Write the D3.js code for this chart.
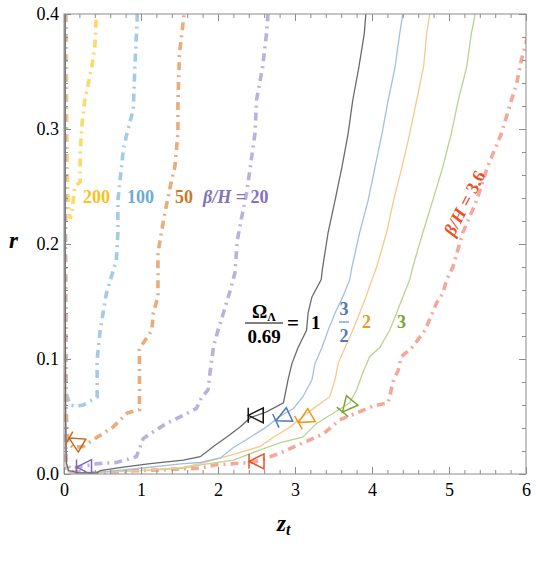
<!DOCTYPE html>
<html>
<head>
<meta charset="utf-8">
<script src="https://cdnjs.cloudflare.com/ajax/libs/d3/7.8.5/d3.min.js"></script>
<style>
  body { margin: 0; background: #fff; }
  .axis path { display: none; }
  .axis line { stroke: #8c8c8c; }
</style>
</head>
<body>
<script>
// curves, as [z_t, r] pairs
// dash-dot curves, one per beta/H
var beta200 = [[0.03,0.40],[0.035,0.33],[0.04,0.28],[0.05,0.245],[0.06,0.232],[0.08,0.222],[0.10,0.227],
  [0.12,0.238],[0.14,0.25],[0.21,0.254],[0.21,0.279],[0.23,0.302],[0.27,0.325],[0.36,0.354],[0.40,0.371],[0.42,0.40]];
var beta100 = [[0.02,0.40],[0.02,0.30],[0.02,0.20],[0.025,0.12],[0.03,0.07],[0.08,0.06],[0.14,0.059],[0.25,0.06],
  [0.43,0.067],[0.43,0.099],[0.47,0.125],[0.55,0.157],[0.68,0.186],[0.70,0.21],[0.70,0.238],[0.77,0.282],
  [0.82,0.297],[0.90,0.317],[0.92,0.354],[0.95,0.395],[0.95,0.40]];
var beta50 = [[0.015,0.40],[0.015,0.30],[0.02,0.15],[0.025,0.06],[0.05,0.027],[0.12,0.023],[0.25,0.024],
  [0.43,0.032],[0.64,0.041],[0.82,0.053],[0.98,0.056],[0.98,0.108],[1.03,0.114],[1.14,0.125],[1.16,0.14],
  [1.22,0.154],[1.22,0.192],[1.27,0.212],[1.31,0.227],[1.38,0.25],[1.44,0.267],[1.48,0.297],[1.48,0.325],
  [1.50,0.366],[1.53,0.383],[1.56,0.40]];
var beta20 = [[0.01,0.40],[0.01,0.2],[0.015,0.05],[0.03,0.01],[0.08,0.005],[0.2,0.006],[0.43,0.009],[0.68,0.01],
  [0.94,0.015],[1.03,0.031],[1.33,0.044],[1.55,0.051],[1.72,0.057],[1.79,0.067],[1.87,0.073],[1.90,0.09],
  [1.94,0.11],[2.0,0.125],[2.07,0.14],[2.16,0.16],[2.22,0.175],[2.25,0.203],[2.31,0.224],[2.37,0.244],
  [2.42,0.267],[2.48,0.296],[2.5,0.325],[2.58,0.354],[2.63,0.383],[2.65,0.40]];
var beta36 = [[0.01,0.40],[0.01,0.2],[0.01,0.03],[0.03,0.005],[0.1,0.002],[0.4,0.001],[1.0,0.003],[1.77,0.005],
  [1.98,0.008],[2.42,0.01],[2.55,0.012],[2.8,0.018],[3.1,0.027],[3.37,0.035],[3.58,0.047],[3.8,0.053],
  [4.01,0.059],[4.21,0.062],[4.28,0.082],[4.34,0.09],[4.38,0.102],[4.52,0.11],[4.69,0.125],[4.84,0.149],
  [4.92,0.157],[4.97,0.169],[5.05,0.18],[5.18,0.21],[5.36,0.238],[5.5,0.267],[5.68,0.296],[5.81,0.325],
  [5.88,0.34],[5.94,0.36],[6.0,0.375],[6.05,0.39]];

// solid curves, one per Omega_Lambda/0.69
var omega1 = [[0.015,0.40],[0.015,0.2],[0.02,0.05],[0.03,0.01],[0.06,0.003],[0.2,0.001],[0.43,0.001],[0.47,0.003],
  [0.77,0.006],[1.12,0.009],[1.55,0.012],[1.77,0.015],[1.94,0.024],[2.11,0.032],[2.29,0.041],[2.42,0.049],
  [2.63,0.054],[2.85,0.062],[2.91,0.082],[2.96,0.096],[3.04,0.11],[3.15,0.125],[3.17,0.14],[3.22,0.154],
  [3.34,0.169],[3.36,0.18],[3.43,0.21],[3.52,0.238],[3.61,0.267],[3.69,0.296],[3.75,0.325],[3.83,0.354],
  [3.9,0.383],[3.92,0.40]];
var omega15 = [[0.015,0.40],[0.015,0.2],[0.02,0.05],[0.03,0.008],[0.06,0.002],[0.2,0.001],[0.55,0.002],[0.99,0.005],
  [1.55,0.009],[1.77,0.01],[2.03,0.014],[2.2,0.023],[2.42,0.032],[2.63,0.041],[2.8,0.05],[2.98,0.057],
  [3.1,0.067],[3.22,0.082],[3.26,0.096],[3.35,0.11],[3.43,0.125],[3.52,0.14],[3.62,0.154],[3.71,0.169],
  [3.74,0.18],[3.84,0.21],[3.95,0.238],[4.04,0.267],[4.13,0.296],[4.21,0.325],[4.3,0.354],[4.36,0.383],[4.4,0.40]];
var omega2 = [[0.015,0.4],[0.015,0.2],[0.02,0.05],[0.03,0.007],[0.06,0.002],[0.2,0.001],[0.99,0.003],[1.55,0.006],
  [1.77,0.009],[2.2,0.017],[2.55,0.024],[2.72,0.032],[2.94,0.041],[3.1,0.05],[3.28,0.059],[3.45,0.067],
  [3.52,0.082],[3.56,0.096],[3.65,0.11],[3.75,0.125],[3.84,0.14],[3.92,0.154],[4.0,0.169],[4.06,0.18],
  [4.19,0.21],[4.28,0.238],[4.39,0.267],[4.49,0.296],[4.58,0.325],[4.67,0.354],[4.71,0.383],[4.75,0.4]];
var omega3 = [[0.015,0.4],[0.015,0.2],[0.02,0.05],[0.03,0.006],[0.06,0.002],[0.2,0.001],[0.99,0.003],[1.55,0.005],
  [1.77,0.008],[2.2,0.012],[2.55,0.021],[2.8,0.027],[3.1,0.032],[3.28,0.044],[3.5,0.053],[3.71,0.062],
  [3.8,0.073],[3.88,0.088],[3.97,0.102],[4.1,0.11],[4.23,0.125],[4.32,0.14],[4.4,0.154],[4.49,0.169],
  [4.53,0.18],[4.66,0.21],[4.79,0.238],[4.92,0.267],[5.03,0.296],[5.12,0.325],[5.23,0.354],[5.29,0.383],[5.34,0.4]];

// triangle markers sitting on the curves
var markerZ = [2.49, 2.84, 3.13, 3.68, 2.50, 0.15, 0.26];
var markerR = [0.051, 0.049, 0.048, 0.059, 0.011, 0.028, 0.006];

// tick values
var xTicks = [0, 1, 2, 3, 4, 5, 6];
var yTicks = [0.0, 0.1, 0.2, 0.3, 0.4];

// styles
var markerAngle = [0, -25, -30, -50, 0, 30, 0];
var markerColor = ["#111111", "#4f79b8", "#e89a1e", "#79a636", "#e8502a", "#c9691f", "#7a68b8"];
var serif = "'Liberation Serif', 'DejaVu Serif', serif";

var dashCurves = [
  {pts: beta200, color: "#fdd86a"},
  {pts: beta100, color: "#a3cbe5"},
  {pts: beta50, color: "#e9ac7e"},
  {pts: beta20, color: "#bcb0dc"},
  {pts: beta36, color: "#f5a898"}
];
var solidCurves = [
  {pts: omega3, color: "#b9d48e"},
  {pts: omega2, color: "#f5c98b"},
  {pts: omega15, color: "#a6bfe0"},
  {pts: omega1, color: "#6b6b6b"}
];

var width = 536, height = 564;
var margin = {top: 14, right: 10, bottom: 90, left: 64},
    w = width - margin.left - margin.right,
    h = height - margin.top - margin.bottom;

var svg = d3.select("body").append("svg")
    .attr("width", width)
    .attr("height", height)
    .attr("font-family", serif);

var g = svg.append("g")
    .attr("transform", "translate(" + margin.left + "," + margin.top + ")");

var x = d3.scaleLinear().domain([0, 6]).range([0, w]);
var y = d3.scaleLinear().domain([0, 0.4]).range([h, 0]);

g.append("clipPath").attr("id", "plotclip")
  .append("rect").attr("width", w).attr("height", h);

var line = d3.line()
    .x(function(d) { return x(d[0]); })
    .y(function(d) { return y(d[1]); });

var plot = g.append("g").attr("clip-path", "url(#plotclip)");

// dash-dot curves
plot.selectAll(".dash")
    .data(dashCurves)
  .enter().append("path")
    .attr("class", "dash")
    .attr("d", function(d) { return line(d.pts); })
    .attr("fill", "none")
    .attr("stroke", function(d) { return d.color; })
    .attr("stroke-width", 3.6)
    .attr("stroke-dasharray", "8,5,2,5");

// solid curves
plot.selectAll(".solid")
    .data(solidCurves)
  .enter().append("path")
    .attr("class", "solid")
    .attr("d", function(d) { return line(d.pts); })
    .attr("fill", "none")
    .attr("stroke", function(d) { return d.color; })
    .attr("stroke-width", 1.3);

// markers: open triangle with a bar through the tip
var s = 7.5;
var markerPath = "M" + (-s) + ",0 L" + s + "," + (-s) + " L" + s + "," + s + " Z" +
                 " M" + (-s) + "," + (-s) + " L" + (-s) + "," + s;
plot.selectAll(".marker")
    .data(markerZ)
  .enter().append("path")
    .attr("class", "marker")
    .attr("d", markerPath)
    .attr("transform", function(d, i) {
      return "translate(" + x(d) + "," + y(markerR[i]) + ") rotate(" + markerAngle[i] + ")";
    })
    .attr("fill", "none")
    .attr("stroke", function(d, i) { return markerColor[i]; })
    .attr("stroke-width", 1.5);

// frame ticks: majors + minors on all four sides
var xMinor = d3.range(0, 6.001, 0.2).filter(function(v) { return Math.abs(v - Math.round(v)) > 1e-6; });
var yMinor = d3.range(0, 0.4001, 0.02).filter(function(v) { return Math.abs(v * 10 - Math.round(v * 10)) > 1e-6; });

function styleLabels(sel) {
  sel.selectAll("text")
    .attr("font-family", serif)
    .attr("font-size", 18)
    .attr("fill", "#000");
}

g.append("g").attr("class", "axis")
    .attr("transform", "translate(0," + h + ")")
    .call(d3.axisBottom(x).tickValues(xTicks).tickSizeInner(-7).tickSizeOuter(0).tickPadding(9)
      .tickFormat(d3.format("d")))
    .call(styleLabels);
g.append("g").attr("class", "axis")
    .attr("transform", "translate(0," + h + ")")
    .call(d3.axisBottom(x).tickValues(xMinor).tickSize(-4).tickFormat(""));
g.append("g").attr("class", "axis")
    .call(d3.axisTop(x).tickValues(xTicks).tickSize(-7).tickFormat(""));
g.append("g").attr("class", "axis")
    .call(d3.axisTop(x).tickValues(xMinor).tickSize(-4).tickFormat(""));

g.append("g").attr("class", "axis")
    .call(d3.axisLeft(y).tickValues(yTicks).tickSizeInner(-7).tickSizeOuter(0).tickPadding(5)
      .tickFormat(d3.format(".1f")))
    .call(styleLabels);
g.append("g").attr("class", "axis")
    .call(d3.axisLeft(y).tickValues(yMinor).tickSize(-4).tickFormat(""));
g.append("g").attr("class", "axis")
    .attr("transform", "translate(" + w + ",0)")
    .call(d3.axisRight(y).tickValues(yTicks).tickSize(-7).tickFormat(""));
g.append("g").attr("class", "axis")
    .attr("transform", "translate(" + w + ",0)")
    .call(d3.axisRight(y).tickValues(yMinor).tickSize(-4).tickFormat(""));

g.append("rect")
    .attr("width", w).attr("height", h)
    .attr("fill", "none")
    .attr("stroke", "#8c8c8c")
    .attr("stroke-width", 1);

// axis titles
svg.append("text")
    .attr("x", 9).attr("y", 248)
    .attr("font-size", 23).attr("font-style", "italic").attr("font-weight", "bold")
    .text("r");
var zt = svg.append("text")
    .attr("x", 277).attr("y", 531)
    .attr("font-size", 23).attr("font-style", "italic").attr("font-weight", "bold");
zt.append("tspan").text("z");
zt.append("tspan").attr("dy", 4).attr("font-size", 16).text("t");

// beta/H labels
function label(txt, xp, yp, color) {
  return svg.append("text").attr("x", xp).attr("y", yp)
    .attr("fill", color)
    .attr("font-size", 18).attr("font-weight", "bold")
    .text(txt);
}
label("200", 83, 203, "#f6c21f");
label("100", 127, 203, "#6fa9d6");
label("50", 175, 203, "#cb772c");
var b20 = svg.append("text").attr("x", 203).attr("y", 203)
    .attr("fill", "#8273b8").attr("font-size", 18).attr("font-weight", "bold");
b20.append("tspan").attr("font-style", "italic").text("\u03B2/H");
b20.append("tspan").text(" = 20");

var b36 = svg.append("text")
    .attr("transform", "translate(470,206) rotate(-63)")
    .attr("text-anchor", "middle")
    .attr("fill", "#e8502a").attr("font-size", 18).attr("font-weight", "bold");
b36.append("tspan").attr("font-style", "italic").text("\u03B2/H");
b36.append("tspan").text(" = 3.6");

// Omega labels (fractions)
var num = svg.append("text").attr("x", 264).attr("y", 318)
    .attr("text-anchor", "middle").attr("font-size", 19).attr("font-weight", "bold");
num.append("tspan").text("\u03A9");
num.append("tspan").attr("dy", 3).attr("font-size", 12).text("\u039B");
svg.append("line").attr("x1", 245).attr("x2", 283).attr("y1", 323).attr("y2", 323)
    .attr("stroke", "#000").attr("stroke-width", 1.2);
svg.append("text").attr("x", 264).attr("y", 343)
    .attr("text-anchor", "middle").attr("font-size", 19).attr("font-weight", "bold")
    .text("0.69");
svg.append("text").attr("x", 287).attr("y", 330)
    .attr("font-size", 21).attr("font-weight", "bold")
    .text("=");
svg.append("text").attr("x", 311).attr("y", 329)
    .attr("font-size", 19).attr("font-weight", "bold")
    .text("1");

svg.append("text").attr("x", 344).attr("y", 315)
    .attr("text-anchor", "middle").attr("fill", "#4f79b8")
    .attr("font-size", 18).attr("font-weight", "bold").text("3");
svg.append("line").attr("x1", 339).attr("x2", 349).attr("y1", 322).attr("y2", 322)
    .attr("stroke", "#4f79b8").attr("stroke-width", 1);
svg.append("text").attr("x", 344).attr("y", 342)
    .attr("text-anchor", "middle").attr("fill", "#4f79b8")
    .attr("font-size", 18).attr("font-weight", "bold").text("2");
label("2", 362, 328, "#e89a1e");
label("3", 397, 328, "#79a636");
</script>
</body>
</html>
